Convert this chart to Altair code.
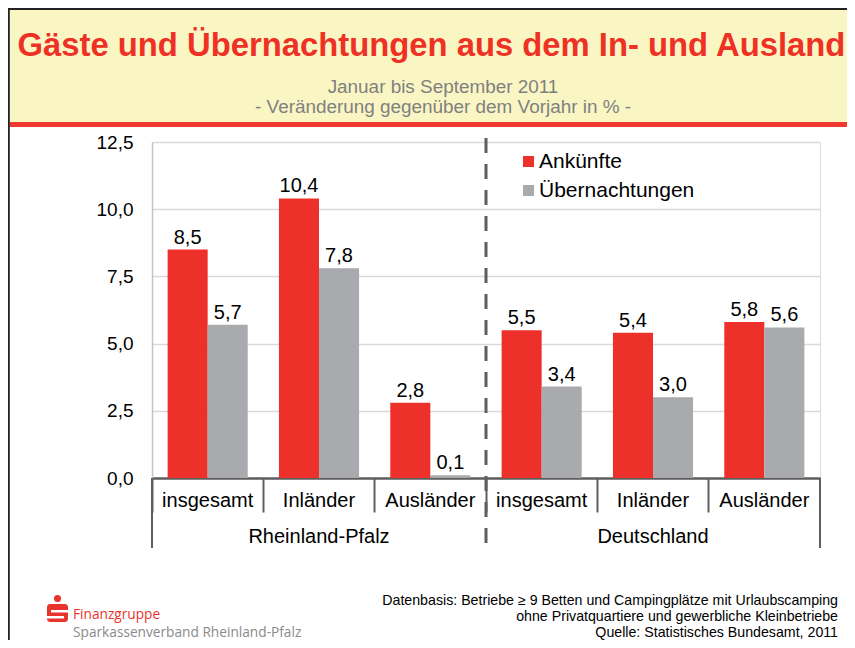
import altair as alt
import pandas as pd

# ---------------- data ----------------
regions = ["Rheinland-Pfalz", "Rheinland-Pfalz", "Rheinland-Pfalz",
           "Deutschland", "Deutschland", "Deutschland"]
categories = ["insgesamt", "Inländer", "Ausländer",
              "insgesamt", "Inländer", "Ausländer"]
series = ["Ankünfte", "Übernachtungen"]
ankuenfte = [8.5, 10.4, 2.8, 5.5, 5.4, 5.8]
uebernachtungen = [5.7, 7.8, 0.1, 3.4, 3.0, 5.6]
y_ticks = [0, 2.5, 5, 7.5, 10, 12.5]

title_text = "Gäste und Übernachtungen aus dem In- und Ausland"
subtitle_lines = ["Januar bis September 2011",
                  "- Veränderung gegenüber dem Vorjahr in % -"]
source_lines = ["Datenbasis: Betriebe ≥ 9 Betten und Campingplätze mit Urlaubscamping",
                "ohne Privatquartiere und gewerbliche Kleinbetriebe",
                "Quelle: Statistisches Bundesamt, 2011"]
logo_lines = ["Finanzgruppe", "Sparkassenverband Rheinland-Pfalz"]

# ---------------- tables ----------------
keys = [f"{r}|{c}" for r, c in zip(regions, categories)]
rows = []
for k, r, c, a, u in zip(keys, regions, categories, ankuenfte, uebernachtungen):
    for s, v in zip(series, (a, u)):
        rows.append({"key": k, "region": r, "category": c, "series": s,
                     "value": v, "label": f"{v:.1f}".replace(".", ",")})
df = pd.DataFrame(rows)
cats_df = pd.DataFrame({"key": keys, "category": categories})
group_df = pd.DataFrame({"key": [keys[1], keys[4]],
                         "region": [regions[1], regions[4]]})
start_df = pd.DataFrame({"key": [keys[0]]})
end_df = pd.DataFrame({"key": [keys[-1]]})
mid_df = pd.DataFrame({"key": [keys[3]]})
one = pd.DataFrame({"a": [0]})

RED = "#EE302B"
GRAY = "#A8AAAD"
DARK = "#5E5E5E"
FONT = "Liberation Sans"

x_axis = alt.Axis(labels=False, title=None, ticks=True, tickSize=34, tickWidth=2,
                  tickColor=DARK, bandPosition=0, domainColor=DARK,
                  domainWidth=2.5, grid=False)
x_scale = alt.Scale(domain=keys, paddingInner=0, paddingOuter=0)


def X(**kw):
    return alt.X("key:N", sort=keys, scale=x_scale, axis=x_axis, **kw)


y_enc = alt.Y("value:Q",
              scale=alt.Scale(domain=[0, 12.5], nice=False, zero=True),
              axis=alt.Axis(values=y_ticks, title=None, ticks=False,
                            labelExpr="replace(format(datum.value, '.1f'), '.', ',')",
                            labelFontSize=19, labelPadding=19, labelColor="black",
                            domainColor="#C4C4C4", domainWidth=1.5,
                            gridColor="#D9D9D9", gridWidth=1.5))

x_off = alt.XOffset("series:N", sort=series,
                    scale=alt.Scale(domain=series, paddingInner=0, paddingOuter=0.39))

color_enc = alt.Color("series:N",
                      scale=alt.Scale(domain=series, range=[RED, GRAY]),
                      legend=alt.Legend(orient="none", legendX=366, legendY=9,
                                        title=None, symbolType="square",
                                        symbolSize=121, symbolStrokeWidth=0,
                                        labelFontSize=21, labelFont=FONT,
                                        labelColor="black", labelOffset=0,
                                        rowPadding=7, padding=0))

# ---------------- decoration ----------------
header = alt.Chart(one).mark_rect(color="#FAF6C4").encode(
    x=alt.value(-142.5), x2=alt.value(695), y=alt.value(-132), y2=alt.value(-20))
redline = alt.Chart(one).mark_rect(color="#EE3A2E").encode(
    x=alt.value(-142.5), x2=alt.value(695), y=alt.value(-20), y2=alt.value(-15))
top_border = alt.Chart(one).mark_rule(color="#222222", strokeWidth=2).encode(
    x=alt.value(-144), x2=alt.value(695), y=alt.value(-133))
left_border = alt.Chart(one).mark_rule(color="#222222", strokeWidth=2).encode(
    x=alt.value(-143.2), y=alt.value(-134), y2=alt.value(510))

title = alt.Chart(one).mark_text(align="left", baseline="alphabetic", font=FONT,
                                 fontSize=32.8, fontWeight="bold", color="#EE3124").encode(
    x=alt.value(-134.5), y=alt.value(-86.5), text=alt.value(title_text))
sub1 = alt.Chart(one).mark_text(align="center", baseline="alphabetic", font=FONT,
                                fontSize=18.9, color="#808080").encode(
    x=alt.value(291), y=alt.value(-49.5), text=alt.value(subtitle_lines[0]))
sub2 = alt.Chart(one).mark_text(align="center", baseline="alphabetic", font=FONT,
                                fontSize=18.9, color="#808080").encode(
    x=alt.value(291), y=alt.value(-29), text=alt.value(subtitle_lines[1]))

src_layers = []
for txt, yy in zip(source_lines, [463, 479, 494.5]):
    src_layers.append(alt.Chart(one).mark_text(align="right", baseline="alphabetic",
                                               font=FONT, fontSize=14.2,
                                               color="black").encode(
        x=alt.value(686), y=alt.value(yy), text=alt.value(txt)))

logo_body = alt.Chart(one).mark_rect(color="#E8342B", cornerRadius=3).encode(
    x=alt.value(-105), x2=alt.value(-84), y=alt.value(462), y2=alt.value(480))
slit1 = alt.Chart(one).mark_rect(color="white").encode(
    x=alt.value(-101), x2=alt.value(-83), y=alt.value(468), y2=alt.value(470.5))
slit2 = alt.Chart(one).mark_rect(color="white").encode(
    x=alt.value(-106), x2=alt.value(-88), y=alt.value(474), y2=alt.value(476.5))
logo_dot = alt.Chart(one).mark_point(shape="circle", filled=True, opacity=1,
                                     color="#E8342B", size=49).encode(
    x=alt.value(-94.5), y=alt.value(456.5))
logo_t1 = alt.Chart(one).mark_text(align="left", baseline="alphabetic", font="Open Sans",
                                   fontSize=13.7, color="#E8342B").encode(
    x=alt.value(-79), y=alt.value(476.5), text=alt.value(logo_lines[0]))
logo_t2 = alt.Chart(one).mark_text(align="left", baseline="alphabetic", font="Open Sans",
                                   fontSize=13.7, color="#8A8A8A").encode(
    x=alt.value(-79), y=alt.value(494.5), text=alt.value(logo_lines[1]))

# ---------------- chart marks ----------------
bars = alt.Chart(df).mark_bar().encode(x=X(), xOffset=x_off, y=y_enc, color=color_enc)
bar_labels = alt.Chart(df).mark_text(baseline="alphabetic", dy=-6, font=FONT,
                                     fontSize=20, color="black").encode(
    x=X(), xOffset=x_off, y=y_enc, text="label:N")

cat_labels = alt.Chart(cats_df).mark_text(baseline="alphabetic", font=FONT,
                                          fontSize=20, color="black").encode(
    x=X(), y=alt.value(365), text="category:N")
grp_labels = alt.Chart(group_df).mark_text(baseline="alphabetic", font=FONT,
                                           fontSize=20, color="black").encode(
    x=X(), y=alt.value(401), text="region:N")

left_rule = alt.Chart(start_df).mark_rule(color=DARK, strokeWidth=2).encode(
    x=X(bandPosition=0), y=alt.value(336), y2=alt.value(406))
end_rule = alt.Chart(end_df).mark_rule(color=DARK, strokeWidth=2).encode(
    x=X(bandPosition=1), y=alt.value(336), y2=alt.value(406))
dash_rule = alt.Chart(mid_df).mark_rule(color=DARK, strokeWidth=3,
                                        strokeDash=[15, 11]).encode(
    x=X(bandPosition=0), y=alt.value(-4), y2=alt.value(406))

chart = alt.layer(
    header, redline, top_border, left_border, title, sub1, sub2,
    bars, bar_labels, cat_labels, grp_labels, left_rule, end_rule, dash_rule,
    *src_layers, logo_body, slit1, slit2, logo_dot, logo_t1, logo_t2,
).properties(
    width=668, height=336,
    padding={"left": 144, "top": 134, "right": 27, "bottom": 162},
    autosize=alt.AutoSizeParams(type="none"),
    background="white",
).configure_view(
    stroke="#C4C4C4", strokeWidth=1.5
).configure(font=FONT)

chart.save("out.html", embed_options={"renderer": "svg", "actions": False})
